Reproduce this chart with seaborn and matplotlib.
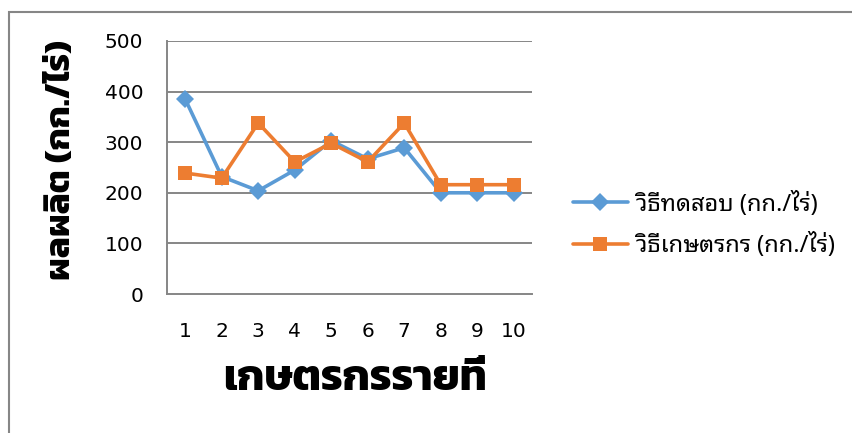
import matplotlib
matplotlib.use("Agg")
import matplotlib.pyplot as plt
import matplotlib.patches as mpatches
import seaborn as sns
import pandas as pd

# ---- data ----
farmers = [1, 2, 3, 4, 5, 6, 7, 8, 9, 10]
test_method = [385, 232, 204, 245, 303, 267, 289, 200, 200, 200]
farmer_method = [239, 229, 338, 261, 298, 261, 338, 216, 216, 216]
series_names = ["วิธีทดสอบ (กก./ไร่)", "วิธีเกษตรกร (กก./ไร่)"]
x_label = "เกษตรกรรายที่"
y_label = "ผลผลิต (กก./ไร่)"
y_ticks = [0, 100, 200, 300, 400, 500]

df = pd.DataFrame({
    "farmer": farmers * 2,
    "value": test_method + farmer_method,
    "series": [series_names[0]] * len(farmers) + [series_names[1]] * len(farmers),
})

sns.set_theme(style="white")
plt.rcParams["font.family"] = ["DejaVu Sans", "Noto Sans Thai Looped"]

W, H = 853, 433
fig = plt.figure(figsize=(W / 100, H / 100), dpi=100)
ax = fig.add_axes([167 / W, 1 - 294 / H, (532 - 167) / W, (294 - 41) / H])

grid_c = "#868686"
for yv in y_ticks[1:]:
    ax.axhline(yv, color=grid_c, lw=1.4, zorder=0)

palette = {series_names[0]: "#5B9BD5", series_names[1]: "#ED7D31"}
sns.lineplot(data=df, x="farmer", y="value", hue="series", style="series",
             palette=palette, markers={series_names[0]: "D", series_names[1]: "s"},
             dashes=False, linewidth=2.6, markersize=9.5, markeredgewidth=0,
             ax=ax, zorder=3)
for line in ax.get_lines():
    if line.get_marker() == "s":
        line.set_markersize(10.5)

ax.set_xlim(0.5, 10.5)
ax.set_ylim(0, 500)
ax.set_xticks(farmers)
ax.set_xticklabels([str(f) for f in farmers])
ax.set_yticks(y_ticks)
ax.tick_params(axis="both", length=0, labelsize=14.5, colors="black")
ax.tick_params(axis="y", pad=17)
ax.tick_params(axis="x", pad=20)
for s in ["top", "right"]:
    ax.spines[s].set_visible(False)
for s in ["left", "bottom"]:
    ax.spines[s].set_color(grid_c)
    ax.spines[s].set_linewidth(1.4)
ax.set_xlabel("")
ax.set_ylabel("")

fig.text(355 / W, 1 - 380 / H, x_label, ha="center", va="center",
         fontsize=31, fontweight="bold", color="black",
         family=["Kanit", "DejaVu Sans"])
fig.text(62 / W, 1 - 160 / H, y_label, ha="center", va="center",
         rotation=90, fontsize=25, fontweight="bold", color="black",
         family=["Kanit", "DejaVu Sans"])

handles, labels = ax.get_legend_handles_labels()
if ax.legend_:
    ax.legend_.remove()
leg = fig.legend(handles, labels, loc="center left",
                 bbox_to_anchor=(552 / W, 1 - 225 / H), frameon=False,
                 prop={"family": ["Noto Sans Thai Looped", "DejaVu Sans"], "size": 17},
                 handlelength=2.3, handletextpad=0.35, labelspacing=0.7)
for t in leg.get_texts():
    t.set_color("black")

frame = mpatches.Rectangle((9 / W, -0.2), 1.5, 1 - 12 / H + 0.2,
                           transform=fig.transFigure, fill=False,
                           edgecolor=grid_c, lw=1.5)
fig.patches.append(frame)

fig.savefig("out.png", dpi=100)
